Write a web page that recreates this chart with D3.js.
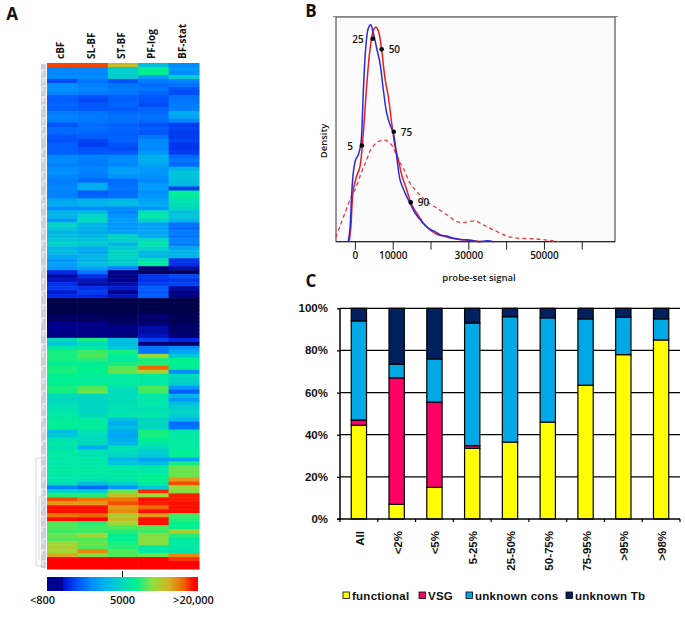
<!DOCTYPE html>
<html><head><meta charset="utf-8">
<script src="https://cdnjs.cloudflare.com/ajax/libs/d3/7.8.5/d3.min.js"></script>
<style>html,body{margin:0;padding:0;background:#fff}svg{display:block}</style>
</head><body><svg id="c" width="685" height="621" font-family="'Open Sans',sans-serif"></svg>
<script>
// Panel A
const heatColumns=["cBF","SL-BF","ST-BF","PF-log","BF-stat"];
const heatRows=[
[93,93,78,38,28],[27,27,42,56,30],[27,27,43,58,28],[28,28,42,32,42],[17,24,18,25,26],[28,26,24,22,24],[29,27,25,24,18],[27,25,24,21,17],
[20,18,20,19,23],[20,17,20,18,24],[21,19,21,17,25],[20,19,19,21,25],[25,24,22,22,34],[26,25,23,23,33],[25,24,23,22,26],[18,22,20,18,15],
[22,23,21,20,16],[21,21,20,18,15],[19,20,20,24,15],[18,16,20,27,16],[20,15,18,28,14],[20,18,17,27,14],[20,19,19,30,15],[27,26,27,35,22],
[28,25,28,35,24],[26,25,27,33,21],[28,27,31,30,35],[29,26,31,30,40],[27,25,29,29,39],[25,21,22,27,38],[26,34,23,30,37],[27,34,24,31,15],
[26,19,22,28,56],[26,21,23,30,54],[33,35,36,32,48],[34,36,38,34,47],[28,28,28,30,45],[36,38,27,48,38],[36,44,29,50,40],[30,46,31,44,36],
[44,36,30,32,24],[40,35,30,32,22],[36,34,32,33,25],[38,37,44,34,24],[40,39,43,46,26],[44,42,36,50,25],[36,34,42,44,33],[38,33,44,38,36],
[34,36,44,36,36],[30,36,42,48,14],[32,38,42,52,13],[30,33,26,6,9],[12,24,8,3,3],[9,13,7,14,17],[10,10,8,13,14],[13,9,9,15,16],
[15,13,11,20,9],[11,15,8,19,7],[12,12,10,20,7],[1,1,1,1,1],[1,1,1,1,1],[1,1,1,1,1],[1,1,1,1,1],[3,3,2,5,2],
[3,3,3,4,2],[7,7,4,5,3],[8,7,7,9,4],[7,7,7,9,4],[7,7,6,10,5],[46,60,38,16,12],[40,46,38,6,4],[50,50,40,24,28],
[60,64,60,24,33],[60,66,56,72,40],[60,62,52,60,58],[56,56,60,62,58],[60,58,66,90,56],[60,58,68,74,28],[58,56,54,54,46],[56,54,52,52,44],
[58,56,54,50,42],[60,66,48,66,30],[60,68,46,64,20],[46,45,46,50,36],[45,44,46,49,30],[46,44,47,50,38],[48,44,48,48,42],[50,44,48,48,44],
[52,46,50,50,42],[54,52,38,44,36],[56,54,34,46,22],[56,55,38,44,24],[38,48,34,60,50],[40,46,33,60,52],[48,46,35,58,52],[50,46,36,50,52],
[48,34,48,46,52],[52,48,46,42,56],[52,48,44,40,55],[50,50,36,32,32],[50,50,40,38,60],[52,52,50,50,68],[52,52,52,50,68],[50,50,52,56,68],
[50,48,50,58,84],[46,38,42,52,92],[26,22,30,40,72],[44,42,68,95,70],[62,62,78,72,96],[92,88,88,97,96],[84,84,92,96,98],[98,98,84,90,98],
[98,97,86,97,98],[88,90,74,84,64],[98,99,78,98,62],[66,62,72,98,58],[66,64,66,66,58],[64,64,62,64,74],[68,72,58,70,62],[66,66,56,70,52],
[72,68,60,70,52],[74,66,62,50,50],[72,86,66,52,50],[82,70,66,68,86],[99,99,99,99,94],[99,99,99,99,99],[99,99,99,99,99]];
const heatStops=[0,8,12,20,30,40,50,58,66,72,82,90,97,100];
const heatColors=["#000040","#000090","#0028e8","#0060ff","#0098ff","#00c8d8","#00e8a8","#00f090","#50e858","#a0d838","#e0a818","#f06800","#ff1000","#ff0000"];
const colorTicks=[{p:-3,t:"<800"},{p:50,t:"5000"},{p:97,t:">20,000"}];
const dendroBranches=[70,78,86,97,105,118,126,134,149,158,172,181,196,204,216,229,241,252,266,279,291,305,318,331,344,352,366,379,391,404,417,428,441,455,466,478,489,497,505,516,527,539,550,561];
// Panel B
const blueCurve=[[-1770,0],[-1330,5.2],[-885,20.1],[-440,30.5],[177,36.4],[885,38.6],[1590,43.8],[2210,66.1],[2830,85.4],[3540,95],[4160,96.5],[4870,92.9],[5750,86.2],[6640,79.5],[7520,67.6],[8410,57.2],[9290,52],[10180,48.3],[11060,37.9],[11950,27.5],[13280,21.6],[14600,17.1],[15930,12.7],[17700,8.9],[19470,5.9],[21240,4.5],[22570,3],[24340,2.5],[26110,1.5],[27880,1],[30530,.7],[32750,0],[34960,.4],[36730,0]];
const redCurve=[[-1500,0],[-1060,6.7],[-440,23],[440,29],[1330,33.4],[2210,48],[3100,69],[3980,85.4],[4870,94],[5580,95.6],[6280,93.4],[7080,85.2],[7970,72.6],[8850,64.4],[9740,52.7],[10620,42.4],[11500,36.4],[12390,29.7],[13720,23],[15050,16.3],[16370,12.7],[18140,8.2],[19910,5.2],[21680,3.3],[23450,2.5],[25220,1.6],[27880,1],[31420,.4],[33630,0]];
const dashedCurve=[[-5040,1.9],[-3980,6.7],[-2650,12.7],[-1330,18.6],[0,23],[1770,31],[3100,36.4],[4425,41.6],[6200,44.6],[7970,45.2],[9740,43],[11500,36.4],[12830,32.7],[14600,26],[16370,22.3],[19030,17.8],[21680,14.9],[24340,11.9],[27000,8.9],[28760,8.5],[31860,9.2],[34070,7.4],[36730,5.2],[40270,2.5],[42920,1.6],[47350,1.3],[50890,.7],[53990,0]];
const percentilePoints=[{s:1860,d:42.8,t:"5",side:"l"},{s:4690,d:90.3,t:"25",side:"l"},{s:7080,d:85.6,t:"50",side:"r"},{s:10270,d:48.9,t:"75",side:"r"},{s:14780,d:17.5,t:"90",side:"r"}];
const signalTicks=[0,10000,20000,30000,40000,50000,60000];
const signalLabels=[0,10000,30000,50000];
// Panel C
const groups=["All","<2%","<5%","5-25%","25-50%","50-75%","75-95%",">95%",">98%"];
const seriesNames=["functional","VSG","unknown cons","unknown Tb"];
const functional=[44.5,7,15,33.5,36.5,46,63.5,78,85];
const vsg=[2.5,60,40.5,1.3,0,0,0,0,0];
const unknownCons=[47,6.5,20.5,58.2,59.5,49.5,31.5,17.7,10];
const unknownTb=[6,26.5,24,7,4,4.5,5,4.3,5];
const seriesColors=["#ffff00","#ff0066","#00a8e6","#002060"];
const pctTicks=[0,20,40,60,80,100];

const svg=d3.select("#c");
const defs=svg.append("defs");
defs.append("filter").attr("id","soft").attr("x","0").attr("y","0").attr("width","1").attr("height","1").append("feGaussianBlur").attr("stdDeviation","0.4 0.7");
const heat=d3.scaleLinear().domain(heatStops).range(heatColors);
const label=(x,y,t,o={})=>{const s=svg.append("text").attr("x",x).attr("y",y).text(t)
  .attr("font-size",o.size||11).attr("font-weight",o.w||600).attr("text-anchor",o.a||"middle").attr("fill","#111");
  if(o.f)s.attr("font-family",o.f);
  if(o.ls)s.attr("letter-spacing",o.ls);
  if(o.r)s.attr("transform",`rotate(${o.r} ${x} ${y})`);return s;};

// panel letters
label(12,20,"A",{size:17,w:700});label(311,17,"B",{size:17,w:700});label(311,287,"C",{size:17,w:700});

// heatmap
const hx=d3.scaleBand().domain(heatColumns).range([47,199]);
const hy=d3.scaleBand().domain(d3.range(heatRows.length)).range([63,569]);
const hg=svg.append("g").attr("filter","url(#soft)");
heatRows.forEach((r,i)=>r.forEach((v,j)=>{
  hg.append("rect").attr("x",hx(heatColumns[j])).attr("y",hy(i)).attr("width",hx.bandwidth()+.5).attr("height",hy.bandwidth()+.5).attr("fill",heat(v));
}));
heatColumns.forEach(c=>label(hx(c)+hx.bandwidth()/2+2,59,c,{size:10,w:700,a:"start",r:-90}));

// dendrogram
const dg=svg.append("g");
dg.append("rect").attr("x",41).attr("y",64).attr("width",5).attr("height",504).attr("fill","#cdd0da");
dg.selectAll("path.b").data(dendroBranches).join("path").attr("d",(y,i)=>`M${41+i%3} ${y}H46M${42+i%2} ${y}V${y+5}`).attr("fill","none").attr("stroke","#f4f5f8").attr("stroke-width",1);
dg.append("path").attr("d","M44 458H36V566H45M44 497H39V560").attr("fill","none").attr("stroke","#c9cbd3").attr("stroke-width",.8);

// colour bar
const cb=d3.scaleLinear().domain([0,100]).range([47,198]);
const grad=defs.append("linearGradient").attr("id","cbar");
[[0,"#000090"],[10,"#000090"],[11,"#0010d0"],[20,"#0050ff"],[30,"#0090ff"],[40,"#00b8e8"],[50,"#00d8c0"],[59,"#00f090"],[70,"#90e040"],[81,"#d8b020"],[91,"#f06000"],[96,"#ff1000"],[100,"#ff0000"]]
 .forEach(([o,c])=>grad.append("stop").attr("offset",o+"%").attr("stop-color",c));
svg.append("rect").attr("x",cb(0)).attr("y",577).attr("width",cb(100)-cb(0)).attr("height",14).attr("fill","url(#cbar)");
svg.append("line").attr("x1",cb(50)).attr("x2",cb(50)).attr("y1",571).attr("y2",577).attr("stroke","#111").attr("stroke-width",1);
colorTicks.forEach(d=>label(cb(d.p),604,d.t,{size:11}));

// density panel
const sx=d3.scaleLinear().domain([-5000,68800]).range([336,615]);
const sy=d3.scaleLinear().domain([0,100]).range([241.7,17]);
svg.append("rect").attr("x",336).attr("y",17).attr("width",279).attr("height",224.7).attr("fill","#fbfbfb").attr("stroke","#333").attr("stroke-width",1);
svg.append("line").attr("x1",333).attr("x2",618).attr("y1",16.5).attr("y2",16.5).attr("stroke","#888").attr("stroke-width",1.2);
const ax=svg.append("g").attr("transform","translate(0,241.7)").call(d3.axisBottom(sx).tickValues(signalTicks).tickSize(8).tickFormat(d=>signalLabels.includes(d)?d:""));
ax.select(".domain").attr("stroke","#222").attr("d","M336,0H615");
ax.selectAll("line").attr("stroke","#222");
ax.selectAll("text").attr("font-size",10).attr("font-weight",600).attr("font-family","'Open Sans',sans-serif").attr("fill","#111").attr("y",9).attr("dy",".85em");
const ln=d3.line().x(d=>sx(d[0])).y(d=>sy(d[1])).curve(d3.curveCatmullRom.alpha(.5));
svg.append("path").attr("d",ln(dashedCurve)).attr("fill","none").attr("stroke","#ee3a44").attr("stroke-width",1.3).attr("stroke-dasharray","4 3");
svg.append("path").attr("d",ln(redCurve)).attr("fill","none").attr("stroke","#e81c24").attr("stroke-width",1.5);
svg.append("path").attr("d",ln(blueCurve)).attr("fill","none").attr("stroke","#2a2ad8").attr("stroke-width",1.5);
percentilePoints.forEach(p=>{
  svg.append("circle").attr("cx",sx(p.s)).attr("cy",sy(p.d)).attr("r",2.3).attr("fill","#000");
  const l=p.side==="l";
  label(sx(p.s)+(l?-9:7),sy(p.d)+4,p.t,{size:10,a:l?"end":"start"});
});
label(327,141,"Density",{size:9.5,r:-90});
label(479,281,"probe-set signal",{size:9.5});

// stacked bars
const bx=d3.scaleBand().domain(groups).range([340,680]).paddingInner(.595).paddingOuter(.2975);
const by=d3.scaleLinear().domain([0,100]).range([519,308.3]);
const SANS="'Liberation Sans',sans-serif";
const gridG=svg.append("g");
pctTicks.forEach(p=>{
  if(p>0)gridG.append("line").attr("x1",340).attr("x2",680).attr("y1",by(p)).attr("y2",by(p)).attr("stroke","#000").attr("stroke-width",1.3);
  label(328,by(p)+4,p+"%",{size:11.5,w:700,a:"end",f:SANS});
});
const stackInput=groups.map((g,i)=>({g,functional:functional[i],VSG:vsg[i],"unknown cons":unknownCons[i],"unknown Tb":unknownTb[i]}));
const stack=d3.stack().keys(seriesNames)(stackInput);
stack.forEach((s,k)=>{
  svg.append("g").selectAll("rect").data(s.filter(d=>d[1]-d[0]>0)).join("rect")
   .attr("x",d=>bx(d.data.g)).attr("width",bx.bandwidth()).attr("y",d=>by(d[1])).attr("height",d=>by(d[0])-by(d[1]))
   .attr("fill",seriesColors[k]).attr("stroke","#000").attr("stroke-width",1.2);
});
const axL=svg.append("g").attr("transform","translate(340,0)").call(d3.axisLeft(by).tickValues(pctTicks).tickSize(3).tickFormat(""));
axL.selectAll("line").attr("stroke","#000").attr("stroke-width",1.3);
axL.select(".domain").attr("stroke","#000").attr("stroke-width",1.5).attr("d",`M0,${by(100)}V${by(0)}`);
svg.append("line").attr("x1",337).attr("x2",680).attr("y1",by(0)).attr("y2",by(0)).attr("stroke","#000").attr("stroke-width",1.5);
const step=bx.step();
d3.range(10).forEach(i=>svg.append("line").attr("x1",340+i*step).attr("x2",340+i*step).attr("y1",519).attr("y2",522).attr("stroke","#000").attr("stroke-width",1.2));
groups.forEach(g=>label(bx(g)+bx.bandwidth()/2+5,531,g,{size:11.5,w:700,a:"end",r:-90,f:SANS}));
// legend
const legendX=[343,419,466,566];
seriesNames.forEach((n,i)=>{
  svg.append("rect").attr("x",legendX[i]).attr("y",592).attr("width",6.5).attr("height",6.5).attr("fill",seriesColors[i]).attr("stroke","#000").attr("stroke-width",.8);
  label(legendX[i]+9,600,n,{size:11.5,w:700,a:"start",f:SANS,ls:.25});
});
</script></body></html>
